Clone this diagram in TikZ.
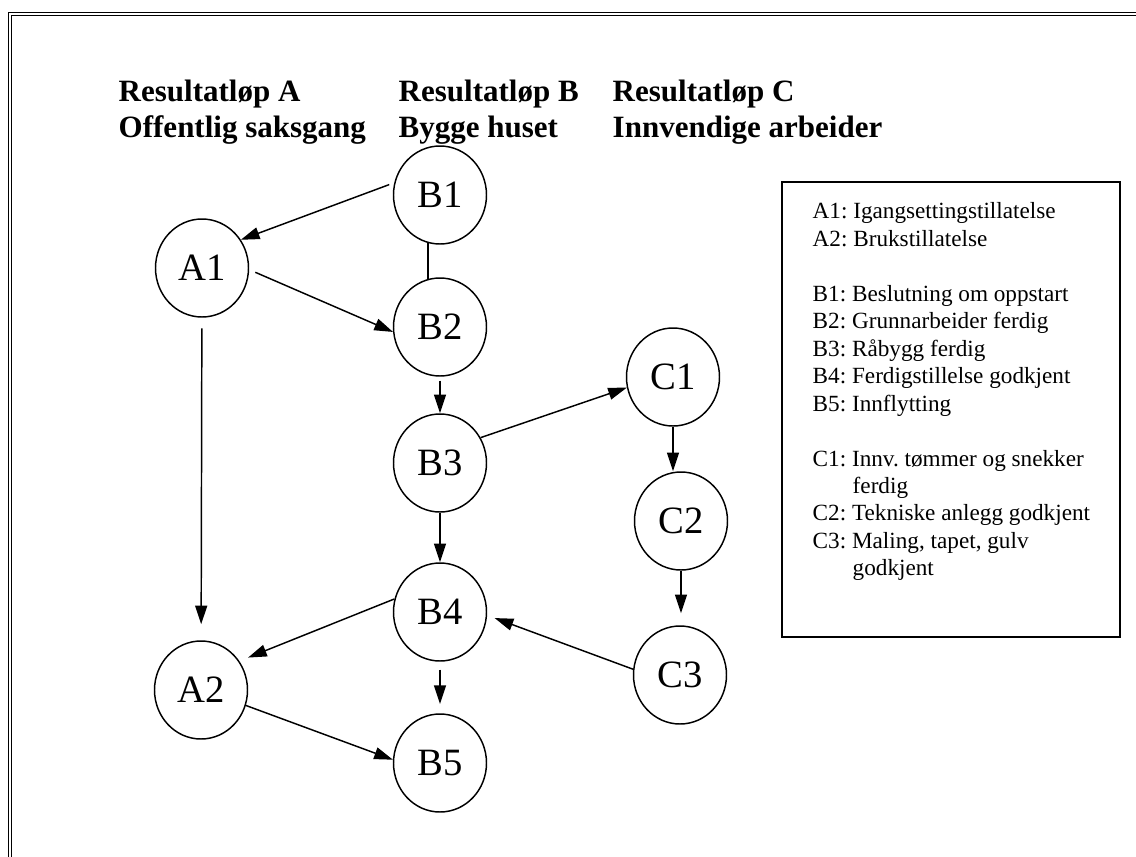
\documentclass[tikz,border=0pt]{standalone}
\usepackage{fontspec}
\setmainfont{Liberation Serif}
\usetikzlibrary{arrows.meta,shapes.geometric}
\frenchspacing
\tikzset{
  milestone/.style={draw, ellipse, minimum width=69.75pt, minimum height=73.5pt, inner sep=0pt, font=\fontsize{29}{35}\selectfont},
  arr/.style={-{Triangle[length=14pt,width=9pt]}},
  heading/.style={anchor=north west, align=left, inner sep=0pt, font=\fontsize{23.25}{27}\selectfont\bfseries},
  legendtext/.style={anchor=north west, align=left, inner sep=0pt, font=\fontsize{17.4}{20.6}\selectfont}
}
\begin{document}
\begin{tikzpicture}[x=0.75pt,y=-0.75pt,line width=1.1pt]
\useasboundingbox (0,0) rectangle (1136,857);
% ramme
\draw[line width=1.4pt] (8.5,857) |- (1136,12.5);
\draw[line width=1pt] (11.8,857) |- (1136,15.8);

% overskrifter
\node[heading] (hA) at (118,79) {Resultatløp A\\Offentlig saksgang};
\node[heading] (hB) at (398,79) {Resultatløp B\\Bygge huset};
\node[heading] (hC) at (612,79) {Resultatløp C\\Innvendige arbeider};

% milepæler
\node[milestone] (B1) at (440,195) {B1};
\node[milestone] (B2) at (440,327) {B2};
\node[milestone] (B3) at (440,463) {B3};
\node[milestone] (B4) at (440,612) {B4};
\node[milestone] (B5) at (440,763) {B5};
\node[milestone] (A1) at (202,268) {A1};
\node[milestone] (A2) at (201,690) {A2};
\node[milestone] (C1) at (673,377) {C1};
\node[milestone] (C2) at (681,521) {C2};
\node[milestone] (C3) at (680,675) {C3};

% avhengigheter
\draw[arr, shorten <=4pt] (B1.165) -- (A1.36);
\draw (B1.256) -- (B2.104);
\draw[arr, shorten <=5pt] (A1.358) -- (B2.186);
\draw[arr, shorten <=8pt, shorten >=12pt] (A1) -- (A2);
\draw[arr, shorten <=3pt] (B2) -- (B3);
\draw[arr] (B3.32) -- (C1.193);
\draw[arr] (C1.south) -- (C1.south |- C2.north);
\draw[arr] (B3) -- (B4);
\draw[arr, shorten >=9pt] (C2.south) -- (C2.south |- C3.north);
\draw[arr, shorten >=6pt] (C3.173) -- (B4.356);
\draw[arr, shorten >=7pt] (B4.164) -- (A2.37);
\draw[arr, shorten <=6pt, shorten >=7pt] (B4) -- (B5);
\draw[arr] (A2.341) -- (B5.176);

% forklaring
\draw (782,182) rectangle (1120,637);
\node[legendtext] (legend) at (812,202) {%
A1: Igangsettingstillatelse\\
A2: Brukstillatelse\\[20.6pt]
B1: Beslutning om oppstart\\
B2: Grunnarbeider ferdig\\
B3: Råbygg ferdig\\
B4: Ferdigstillelse godkjent\\
B5: Innflytting\\[20.6pt]
C1: Innv. tømmer og snekker\\
\hspace*{30pt}ferdig\\
C2: Tekniske anlegg godkjent\\
C3: Maling, tapet, gulv\\
\hspace*{30pt}godkjent};
\end{tikzpicture}
\end{document}
